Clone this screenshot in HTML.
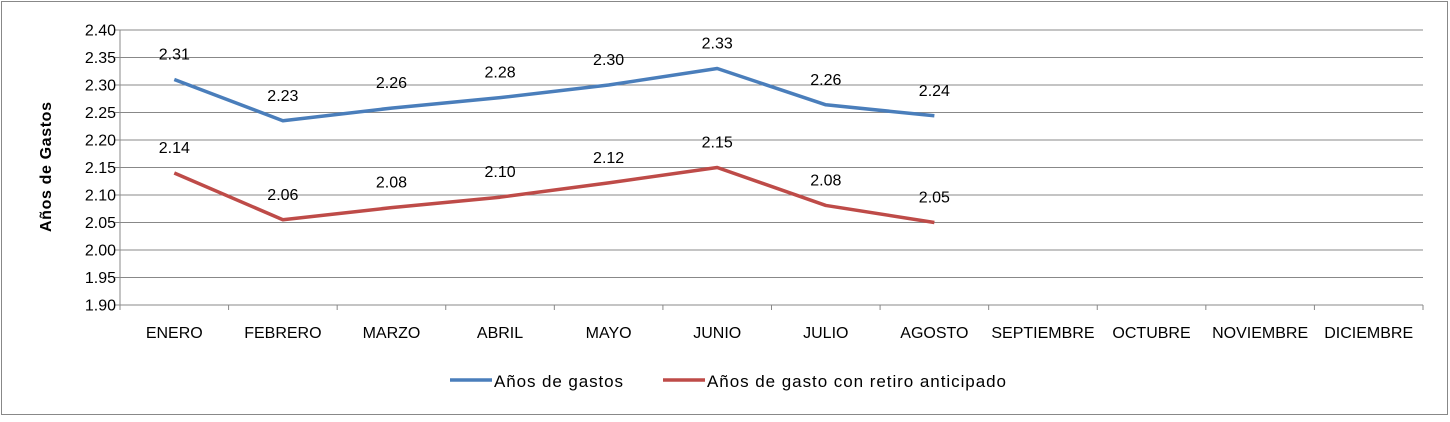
<!DOCTYPE html>
<html><head><meta charset="utf-8"><style>
body{margin:0;background:#fff;font-family:"Liberation Sans",Arial,sans-serif}
svg text{font-family:"Liberation Sans",Arial,sans-serif}
</style></head><body>
<svg id="chart" width="1450" height="417">
<rect x="1.5" y="1.5" width="1446" height="413" fill="#fff" stroke="#888"/>
<g id="grid"></g><g id="axes"></g><g id="series"></g>
<text transform="translate(51,167) rotate(-90)" text-anchor="middle" font-size="16" font-weight="bold" textLength="130">Años de Gastos</text>
<g>
<line x1="450" y1="380" x2="492" y2="380" stroke="#4a7ebb" stroke-width="3.5"/>
<text x="494" y="387" font-size="17" textLength="129">Años de gastos</text>
<line x1="663" y1="380" x2="705" y2="380" stroke="#be4b48" stroke-width="3.5"/>
<text x="707" y="387" font-size="17" textLength="299">Años de gasto con retiro anticipado</text>
</g>
</svg>
<script>
const categories=["ENERO","FEBRERO","MARZO","ABRIL","MAYO","JUNIO","JULIO","AGOSTO","SEPTIEMBRE","OCTUBRE","NOVIEMBRE","DICIEMBRE"];
const gastos=[2.31,2.235,2.258,2.277,2.30,2.33,2.264,2.244];
const retiro=[2.14,2.055,2.077,2.096,2.122,2.15,2.081,2.05];
const gastosLabels=["2.31","2.23","2.26","2.28","2.30","2.33","2.26","2.24"];
const retiroLabels=["2.14","2.06","2.08","2.10","2.12","2.15","2.08","2.05"];
const yTicks=[1.90,1.95,2.00,2.05,2.10,2.15,2.20,2.25,2.30,2.35,2.40];
const NS="http://www.w3.org/2000/svg";
const L=120,R=1423,T=30,B=305,yMin=1.9,yMax=2.4;
const bw=(R-L)/categories.length;
const x=i=>L+bw*(i+0.5);
const y=v=>B-(v-yMin)/(yMax-yMin)*(B-T);
function mk(tag,a,p){const e=document.createElementNS(NS,tag);for(const k in a)e.setAttribute(k,a[k]);p.appendChild(e);return e;}
const grid=document.getElementById('grid'),axes=document.getElementById('axes'),ser=document.getElementById('series');
yTicks.forEach(t=>{
 const g=mk('line',{x1:L-5,x2:R,y1:y(t),y2:y(t),stroke:'#888','stroke-width':1},grid);
 
 
 const tx=mk('text',{x:L-4,y:y(t)+5.5,'text-anchor':'end','font-size':16},axes);
 tx.textContent=t.toFixed(2);
 
 
});
const ya=mk('line',{x1:L,x2:L,y1:T,y2:B,stroke:'#888'},axes);


for(let i=0;i<=categories.length;i++){
 const tk=mk('line',{x1:L+bw*i,x2:L+bw*i,y1:B,y2:B+5,stroke:'#888'},axes);
 
 
}
categories.forEach((c,i)=>{
 const tx=mk('text',{x:x(i),y:338,'text-anchor':'middle','font-size':16},axes);
 tx.textContent=c;
 
 
});
function series(vals,labels,color,name){
 const p=mk('polyline',{points:vals.map((v,i)=>x(i)+','+y(v)).join(' '),fill:'none',stroke:color,'stroke-width':3.5,'stroke-linejoin':'round'},ser);
 
 
 vals.forEach((v,i)=>{
  const t=mk('text',{x:x(i),y:y(v)-20,'text-anchor':'middle','font-size':16},ser);
  t.textContent=labels[i];
  
  
 });
}
series(gastos,gastosLabels,'#4a7ebb','gastos');
series(retiro,retiroLabels,'#be4b48','retiro');
</script>
</body></html>
